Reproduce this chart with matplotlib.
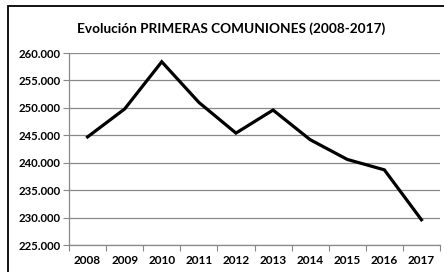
import matplotlib
matplotlib.use("Agg")
import matplotlib.pyplot as plt
from matplotlib.patches import Rectangle
from matplotlib.ticker import FuncFormatter, FixedLocator

years = ["2008", "2009", "2010", "2011", "2012", "2013", "2014", "2015", "2016", "2017"]
values = [244700, 249800, 258400, 251000, 245400, 249600, 244200, 240600, 238700, 229600]
title = "Evolución PRIMERAS COMUNIONES (2008-2017)"

plt.rcParams['font.family'] = ['Lato', 'DejaVu Sans']
fig = plt.figure(figsize=(4.44, 2.72), dpi=100)
ax = fig.add_axes([69/444, 1 - 245/272, (440-69)/444, (245-53)/272])

x = [i + 0.5 for i in range(len(years))]
ax.plot(x, values, color='black', lw=2.3, solid_joinstyle='miter')
ax.set_xlim(0, len(years))
ax.set_ylim(225000, 260000)
ax.set_yticks(range(225000, 260001, 5000))
ax.yaxis.set_major_formatter(FuncFormatter(lambda v, p: f"{int(v):,}".replace(",", ".")))
ax.xaxis.set_major_locator(FixedLocator(range(len(years) + 1)))
ax.set_xticklabels([""] * (len(years) + 1))
ax.set_xticks(x, minor=True)
ax.set_xticklabels(years, minor=True)
ax.tick_params(axis='x', which='minor', length=0, pad=7)
ax.tick_params(axis='x', which='major', length=4, color='#888888', direction='out')
ax.tick_params(axis='y', length=4, color='#888888', direction='out', pad=2)
for lab in ax.get_xticklabels(minor=True):
    lab.set_fontweight('bold')
    lab.set_fontsize(8.5)
for lab in ax.get_yticklabels():
    lab.set_fontweight('bold')
    lab.set_fontsize(8.2)
ax.grid(axis='y', color='#888888', lw=0.9)
ax.set_axisbelow(True)
for s in ['top', 'right']:
    ax.spines[s].set_visible(False)
for s in ['left', 'bottom']:
    ax.spines[s].set_color('#888888')
    ax.spines[s].set_linewidth(0.9)

fig.text(231/444, 1 - 29/272, title, ha='center', va='center',
         fontsize=9.8, fontweight='bold')
fig.patches.append(Rectangle((8/444, -0.05), 1.0, 1 - 6/272 + 0.05, transform=fig.transFigure,
                             fill=False, edgecolor='black', lw=1.3))
fig.savefig("out.png", dpi=100)
